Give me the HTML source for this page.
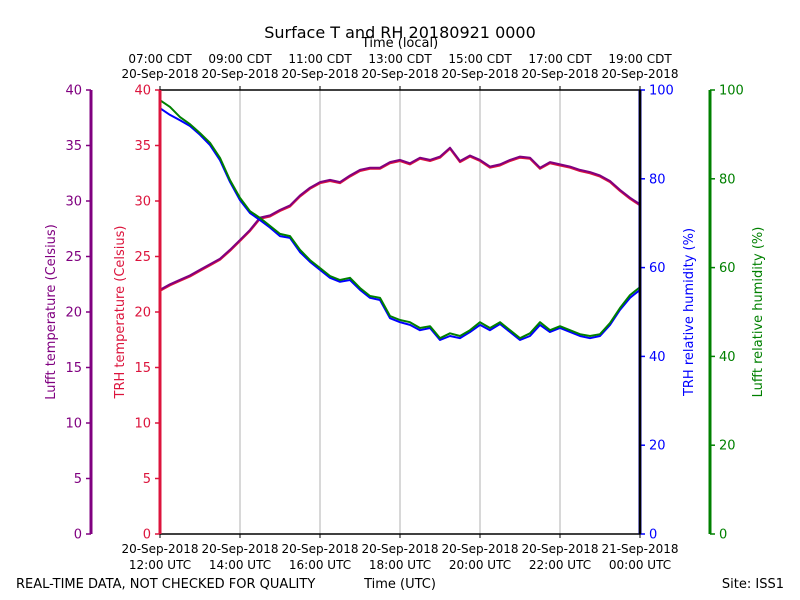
<!DOCTYPE html>
<html><head><meta charset="utf-8"><style>
body{margin:0;background:#fff;}
svg{display:block;font-family:"DejaVu Sans","Liberation Sans",sans-serif;}
</style></head><body>
<svg id="c" width="800" height="600" viewBox="0 0 800 600"></svg>
<script>
const timeLabelsUTC = ["20-Sep-2018|12:00 UTC","20-Sep-2018|14:00 UTC","20-Sep-2018|16:00 UTC","20-Sep-2018|18:00 UTC","20-Sep-2018|20:00 UTC","20-Sep-2018|22:00 UTC","21-Sep-2018|00:00 UTC"];
const timeLabelsLocal = ["07:00 CDT|20-Sep-2018","09:00 CDT|20-Sep-2018","11:00 CDT|20-Sep-2018","13:00 CDT|20-Sep-2018","15:00 CDT|20-Sep-2018","17:00 CDT|20-Sep-2018","19:00 CDT|20-Sep-2018"];
const tempTicks = [0,5,10,15,20,25,30,35,40];
const rhTicks = [0,20,40,60,80,100];
// samples every 15 minutes starting 12:00 UTC
const lufftTemp = [22.0,22.5,22.9,23.3,23.8,24.3,24.8,25.6,26.5,27.4,28.5,28.7,29.2,29.6,30.5,31.2,31.7,31.9,31.7,32.3,32.8,33.0,33.0,33.5,33.7,33.4,33.9,33.7,34.0,34.8,33.6,34.1,33.7,33.1,33.3,33.7,34.0,33.9,33.0,33.5,33.3,33.1,32.8,32.6,32.3,31.8,31.0,30.3,29.7];
const trhTemp   = [21.9,22.4,22.8,23.2,23.7,24.2,24.7,25.5,26.4,27.3,28.4,28.6,29.1,29.5,30.4,31.1,31.6,31.8,31.6,32.2,32.7,32.9,32.9,33.4,33.6,33.3,33.8,33.6,33.9,34.7,33.5,34.0,33.6,33.0,33.2,33.6,33.9,33.8,32.9,33.4,33.2,33.0,32.7,32.5,32.2,31.7,30.9,30.2,29.6];
const trhRH   = [95.9,94.4,93.2,91.9,89.9,87.6,84.2,79.3,75.2,72.3,70.7,69.0,67.1,66.7,63.5,61.3,59.5,57.7,56.8,57.2,55.0,53.2,52.7,48.6,47.7,47.1,45.9,46.4,43.7,44.6,44.1,45.5,47.1,45.9,47.3,45.5,43.7,44.6,47.1,45.5,46.4,45.5,44.6,44.1,44.6,47.1,50.5,53.2,55.0];
const lufftRH = [97.7,96.2,93.9,92.3,90.3,88.1,84.7,79.7,75.7,72.7,71.2,69.4,67.6,67.1,64.0,61.7,59.9,58.1,57.2,57.7,55.4,53.6,53.2,49.1,48.2,47.7,46.4,46.8,44.1,45.2,44.6,45.9,47.7,46.4,47.7,45.9,44.1,45.2,47.7,45.9,46.8,45.9,45.0,44.6,45.0,47.5,50.9,53.8,55.6];

const NS="http://www.w3.org/2000/svg", svg=document.getElementById('c');
const X0=160,X1=640,Y0=534,Y1=90;
const xs=h=>X0+(X1-X0)*h/12;
const yT=t=>Y0-(Y0-Y1)*t/40;
const yR=r=>Y0-(Y0-Y1)*r/100;
function mk(tag,attrs,parent){const e=document.createElementNS(NS,tag);for(const k in attrs)e.setAttribute(k,attrs[k]);(parent||svg).appendChild(e);return e;}
function txt(x,y,s,attrs,parent){const t=mk('text',Object.assign({x:x,y:y,'font-size':12},attrs||{}),parent);t.textContent=s;return t;}

for(let i=1;i<6;i++){const g=mk('line',{x1:xs(i*2),x2:xs(i*2),y1:Y1,y2:Y0,stroke:'#b0b0b0','stroke-width':1});

}

function series(vals,yf,color,name){
 const d=vals.map((v,i)=>(i?'L':'M')+xs(i*0.25).toFixed(1)+','+yf(v).toFixed(1)).join('');
 const p=mk('path',{d:d,fill:'none',stroke:color,'stroke-width':2,'stroke-linejoin':'round'});
 
 
}
series(trhTemp,yT,'#dc143c','trh-temperature-line');
series(lufftTemp,yT,'#800080','lufft-temperature-line');
series(trhRH,yR,'#0000ff','trh-humidity-line');
series(lufftRH,yR,'#008000','lufft-humidity-line');

mk('line',{x1:X0,x2:X1,y1:Y1,y2:Y1,stroke:'#000','stroke-width':1.5});
mk('line',{x1:X0,x2:X1,y1:Y0,y2:Y0,stroke:'#000','stroke-width':1.5});

function vaxis(x,ticks,yf,color,side,name,label,lx){
 const g=mk('g',{});
 
 
 mk('line',{x1:x,x2:x,y1:Y1,y2:Y0,stroke:color,'stroke-width':3},g);
 ticks.forEach(v=>{const y=yf(v);
  mk('line',{x1:x,x2:x+side*5,y1:y,y2:y,stroke:color,'stroke-width':1.5},g);
  txt(side<0?x-9:x+9,y+4.5,String(v),{fill:color,'text-anchor':side<0?'end':'start','font-size':13},g);});
 const t=txt(lx,312,label,{fill:color,'text-anchor':'middle','font-size':13,transform:`rotate(-90 ${lx} 312)`});
 
 
}
vaxis(91,tempTicks,yT,'#800080',-1,'lufft-temp-axis','Lufft temperature (Celsius)',55);
vaxis(160,tempTicks,yT,'#dc143c',-1,'trh-temp-axis','TRH temperature (Celsius)',124);
vaxis(640,rhTicks,yR,'#0000ff',1,'trh-rh-axis','TRH relative humidity (%)',693);
vaxis(710,rhTicks,yR,'#008000',1,'lufft-rh-axis','Lufft relative humidity (%)',762);
mk('line',{x1:640,x2:640,y1:Y1,y2:Y0,stroke:'#000','stroke-width':2.5});

for(let i=0;i<7;i++){const x=xs(i*2);
 mk('line',{x1:x,x2:x,y1:Y0,y2:Y0+4,stroke:'#000'});
 mk('line',{x1:x,x2:x,y1:Y1,y2:Y1-4,stroke:'#000'});
 const b=timeLabelsUTC[i].split('|'), t=timeLabelsLocal[i].split('|');
 const a=txt(x,553,b[0],{'text-anchor':'middle'});
 txt(x,569,b[1],{'text-anchor':'middle'});
 const c=txt(x,63,t[0],{'text-anchor':'middle'});
 txt(x,78,t[1],{'text-anchor':'middle'});
}
let e;
e=txt(400,38,'Surface T and RH 20180921 0000',{'text-anchor':'middle','font-size':16});
e=txt(400,47,'Time (local)',{'text-anchor':'middle','font-size':13});
e=txt(16,588,'REAL-TIME DATA, NOT CHECKED FOR QUALITY',{'font-size':13});
e=txt(400,588,'Time (UTC)',{'text-anchor':'middle','font-size':13});
e=txt(784,588,'Site: ISS1',{'text-anchor':'end','font-size':13});
</script>
</body></html>
